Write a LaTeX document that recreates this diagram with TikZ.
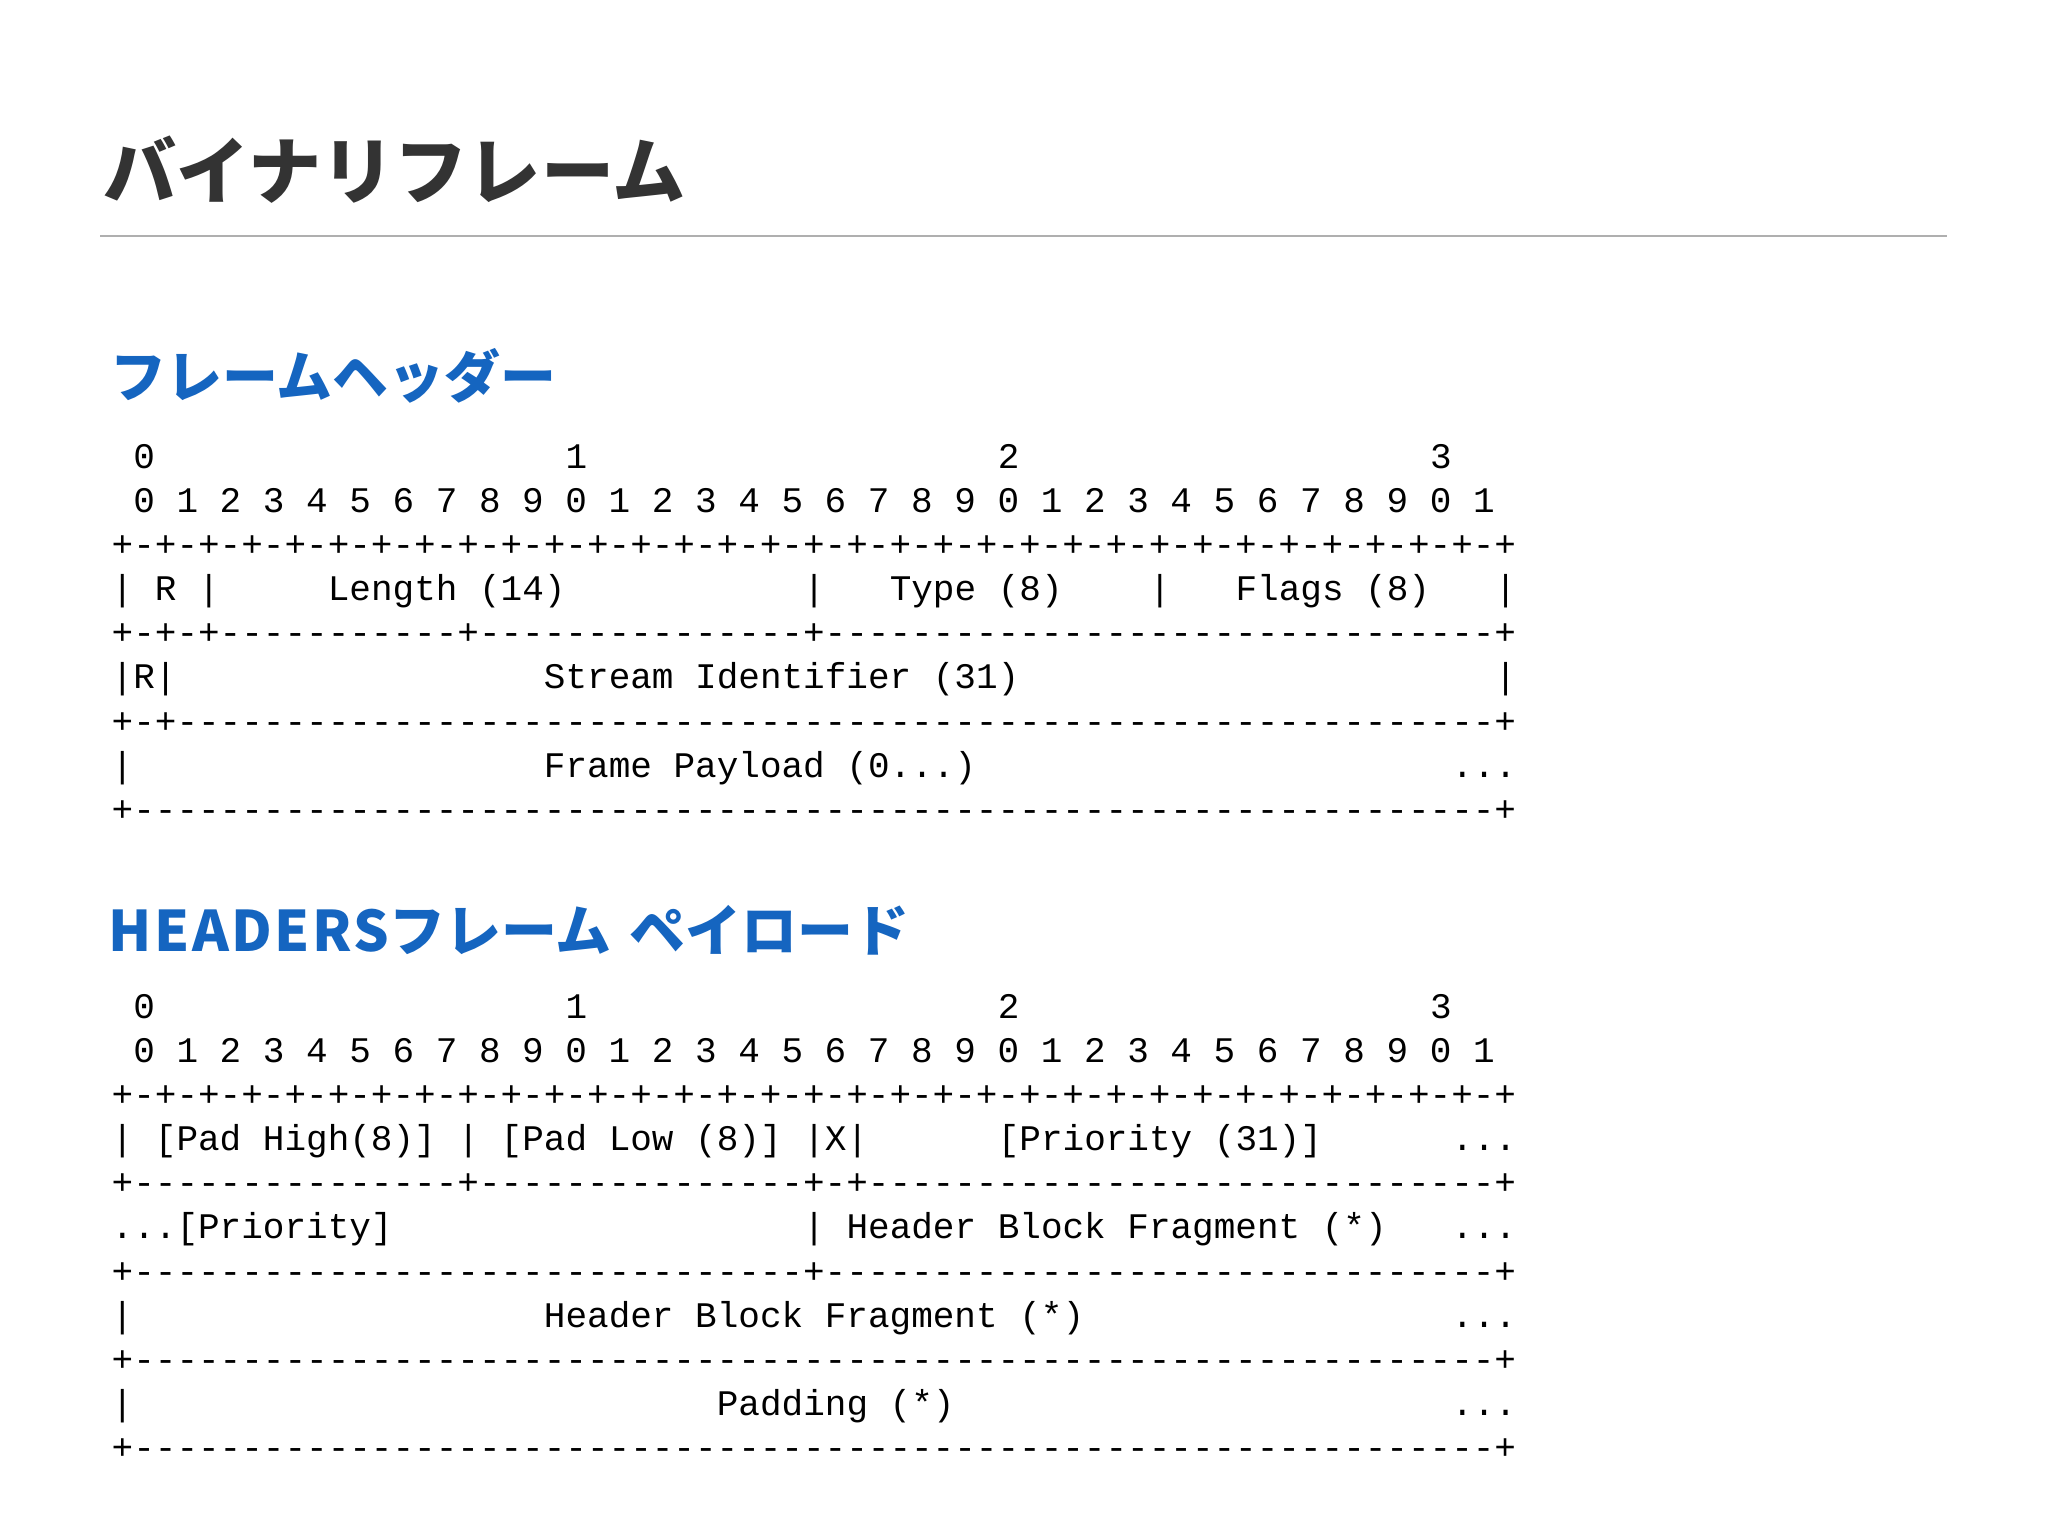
\documentclass[tikz,border=0pt]{standalone}
\usepackage{fontspec}
\setmainfont{Liberation Sans}
\setmonofont{Liberation Mono}
\newfontfamily\jafont{Noto Sans CJK JP}
\definecolor{titlegray}{HTML}{333333}
\definecolor{headblue}{HTML}{1565C0}
\definecolor{rulegray}{HTML}{AFAFAF}
% runs of ascii art
\newcommand{\dashrun}[1]{\foreach\k in {1,...,#1}{-}}
\newcommand{\bitticks}{\foreach\k in {1,...,32}{+-}+}

\begin{document}
\begin{tikzpicture}[x=0.01cm,y=-0.01cm,
  title/.style={anchor=west,inner sep=0pt,text=titlegray,
    font=\jafont\bfseries\fontsize{20.8pt}{25pt}\selectfont},
  heading/.style={anchor=west,inner sep=0pt,text=headblue,
    font=\jafont\bfseries\fontsize{15.9pt}{19pt}\selectfont},
  bits/.style={anchor=base west,inner sep=0pt,
    font=\ttfamily\fontsize{10.24pt}{12pt}\selectfont}]
  \fill[white] (0,0) rectangle (2048,1536);
  \useasboundingbox (0,0) rectangle (2048,1536);

  \node[title] (title) at (103,170) {バイナリフレーム};
  \draw[rulegray,line width=0.25mm] (100,236) -- (1947,236);

  % frame header
  \node[heading] (fh-head) at (110,376) {フレームヘッダー};
  \begin{scope}[shift={(111,468)},x=0.216cm,y=-0.4415cm]
    \foreach \t in {0,...,3}
      \node[bits] (fh-ten\t) at (1+20*\t,0) {\t};
    \node[bits] (fh-unit) at (1,1) {0 1 2 3 4 5 6 7 8 9 0 1 2 3 4 5 6 7 8 9 0 1 2 3 4 5 6 7 8 9 0 1};
    \node[bits] (fh-rule0) at (0,2) {\bitticks};
    \node[bits] (fh-r0) at (0,3) {| R |};
    \node[bits] (fh-len) at (10,3) {Length (14)};
    \node[bits] (fh-bar1) at (32,3) {|};
    \node[bits] (fh-type) at (36,3) {Type (8)};
    \node[bits] (fh-bar2) at (48,3) {|};
    \node[bits] (fh-flags) at (52,3) {Flags (8)};
    \node[bits] (fh-bar3) at (64,3) {|};
    \node[bits] (fh-rule1) at (0,4) {+-+-+\dashrun{11}+\dashrun{15}+\dashrun{31}+};
    \node[bits] (fh-r1) at (0,5) {|R|};
    \node[bits] (fh-sid) at (20,5) {Stream Identifier (31)};
    \node[bits] (fh-bar4) at (64,5) {|};
    \node[bits] (fh-rule2) at (0,6) {+-+\dashrun{61}+};
    \node[bits] (fh-bar5) at (0,7) {|};
    \node[bits] (fh-pay) at (20,7) {Frame Payload (0...)};
    \node[bits] (fh-more) at (62,7) {...};
    \node[bits] (fh-rule3) at (0,8) {+\dashrun{63}+};
  \end{scope}

  % headers payload
  \node[heading] (hp-head) at (108,930)
    {{\addfontfeature{LetterSpace=4.5}HEADERS}フレーム\hspace{0.5mm} ペイロード};
  \begin{scope}[shift={(111,1018)},x=0.216cm,y=-0.4415cm]
    \foreach \t in {0,...,3}
      \node[bits] (hp-ten\t) at (1+20*\t,0) {\t};
    \node[bits] (hp-unit) at (1,1) {0 1 2 3 4 5 6 7 8 9 0 1 2 3 4 5 6 7 8 9 0 1 2 3 4 5 6 7 8 9 0 1};
    \node[bits] (hp-rule0) at (0,2) {\bitticks};
    \node[bits] (hp-bar0) at (0,3) {|};
    \node[bits] (hp-padh) at (2,3) {[Pad High(8)]};
    \node[bits] (hp-bar1) at (16,3) {|};
    \node[bits] (hp-padl) at (18,3) {[Pad Low (8)]};
    \node[bits] (hp-x) at (32,3) {|X|};
    \node[bits] (hp-prio) at (41,3) {[Priority (31)]};
    \node[bits] (hp-more0) at (62,3) {...};
    \node[bits] (hp-rule1) at (0,4) {+\dashrun{15}+\dashrun{15}+-+\dashrun{29}+};
    \node[bits] (hp-prio2) at (0,5) {...[Priority]};
    \node[bits] (hp-bar2) at (32,5) {|};
    \node[bits] (hp-hbf0) at (34,5) {Header Block Fragment (*)};
    \node[bits] (hp-more1) at (62,5) {...};
    \node[bits] (hp-rule2) at (0,6) {+\dashrun{31}+\dashrun{31}+};
    \node[bits] (hp-bar3) at (0,7) {|};
    \node[bits] (hp-hbf1) at (20,7) {Header Block Fragment (*)};
    \node[bits] (hp-more2) at (62,7) {...};
    \node[bits] (hp-rule3) at (0,8) {+\dashrun{63}+};
    \node[bits] (hp-bar4) at (0,9) {|};
    \node[bits] (hp-pad) at (28,9) {Padding (*)};
    \node[bits] (hp-more3) at (62,9) {...};
    \node[bits] (hp-rule4) at (0,10) {+\dashrun{63}+};
  \end{scope}
\end{tikzpicture}
\end{document}
